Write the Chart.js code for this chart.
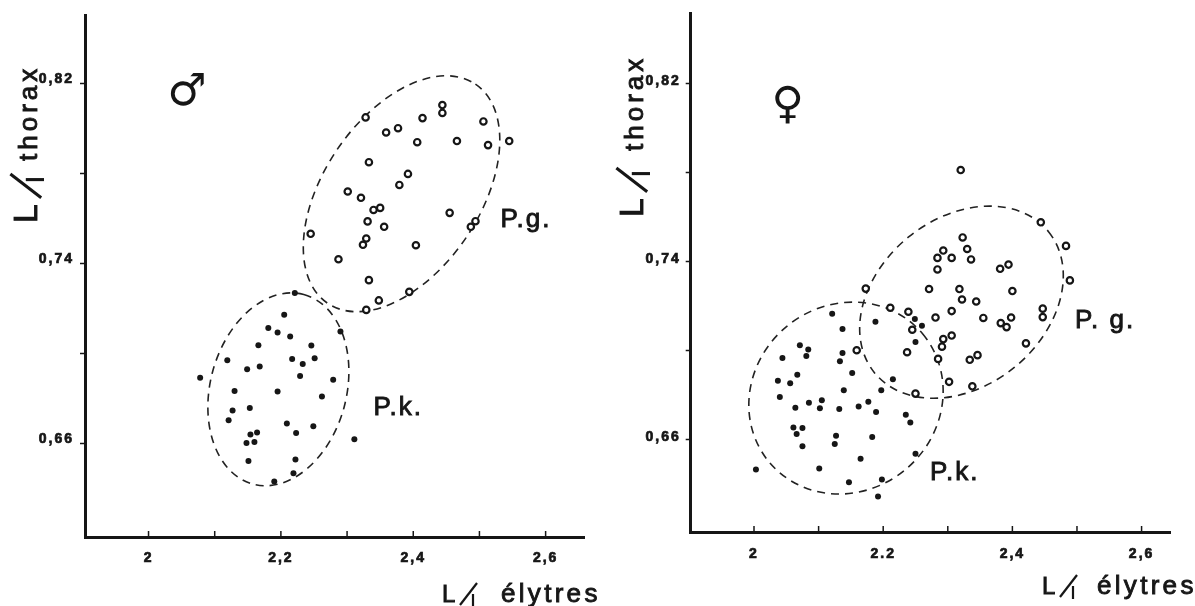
<!DOCTYPE html>
<html>
<head>
<meta charset="utf-8">
<script src="https://cdn.jsdelivr.net/npm/chart.js@4.4.1/dist/chart.umd.min.js"></script>
<style>
html, body { margin: 0; padding: 0; background: #fff; }
#wrap { position: relative; width: 1195px; height: 606px; overflow: hidden; }
canvas { position: absolute; top: 0; }
</style>
</head>
<body>
<div id="wrap">
  <canvas id="male" width="598" height="606" style="left:0"></canvas>
  <canvas id="female" width="597" height="606" style="left:598px"></canvas>
</div>
<script>
// ticks
const xTickValues = [2, 2.1, 2.2, 2.3, 2.4, 2.5, 2.6];
const maleXTickLabels = ['2', '', '2,2', '', '2,4', '', '2,6'];
const femaleXTickLabels = ['2', '', '2.2', '', '2,4', '', '2,6'];
const yTickValues = [0.66, 0.70, 0.74, 0.78, 0.82];
const yTickLabels = ['0,66', '', '0,74', '', '0,82'];

// male, P.g. (open circles)
const maleGX = [2.328, 2.359, 2.377, 2.414, 2.444, 2.444, 2.506, 2.406, 2.466, 2.513, 2.545, 2.333, 2.392, 2.379, 2.301, 2.321,
  2.340, 2.350, 2.331, 2.356, 2.455, 2.494, 2.487, 2.245, 2.329, 2.324, 2.404, 2.287, 2.333, 2.394, 2.348, 2.329];
const maleGY = [0.8049, 0.7982, 0.8001, 0.8046, 0.8104, 0.8069, 0.8031, 0.7939, 0.7944, 0.7926, 0.7944, 0.7850, 0.7798, 0.7749, 0.7720, 0.7692,
  0.7638, 0.7647, 0.7587, 0.7563, 0.7625, 0.7588, 0.7563, 0.7532, 0.7511, 0.7483, 0.7481, 0.7419, 0.7326, 0.7274, 0.7236, 0.7194];

// male, P.k. (dots)
const maleKX = [2.221, 2.205, 2.181, 2.195, 2.214, 2.290, 2.166, 2.246, 2.119, 2.149, 2.168, 2.217, 2.233, 2.251, 2.229, 2.078, 2.279, 2.130,
  2.195, 2.262, 2.127, 2.153, 2.121, 2.209, 2.249, 2.223, 2.164, 2.154, 2.148, 2.160, 2.311, 2.151, 2.222, 2.219, 2.190];
const maleKY = [0.7269, 0.7172, 0.7114, 0.7093, 0.7076, 0.7098, 0.7037, 0.7036, 0.6970, 0.6930, 0.6942, 0.6976, 0.6954, 0.6979, 0.6900, 0.6892, 0.6884, 0.6834,
  0.6831, 0.6809, 0.6747, 0.6758, 0.6704, 0.6689, 0.6677, 0.6647, 0.6649, 0.6640, 0.6603, 0.6607, 0.6619, 0.6523, 0.6529, 0.6468, 0.6432];

// female, P.g.
const femaleGX = [2.320, 2.444, 2.483, 2.489, 2.323, 2.330, 2.293, 2.284, 2.306, 2.336, 2.284, 2.381, 2.394, 2.400, 2.173, 2.271, 2.318, 2.322, 2.344, 2.211, 2.239,
  2.306, 2.281, 2.355, 2.382, 2.398, 2.391, 2.447, 2.447, 2.245, 2.293, 2.306, 2.291, 2.421, 2.159, 2.237, 2.285, 2.334, 2.346, 2.302, 2.338, 2.250];
const femaleGY = [0.7809, 0.7574, 0.7468, 0.7313, 0.7506, 0.7454, 0.7447, 0.7414, 0.7414, 0.7407, 0.7362, 0.7365, 0.7384, 0.7265, 0.7276, 0.7274, 0.7274, 0.7227, 0.7218, 0.7190, 0.7172,
  0.7175, 0.7146, 0.7144, 0.7121, 0.7146, 0.7103, 0.7186, 0.7148, 0.7091, 0.7049, 0.7065, 0.7015, 0.7030, 0.6999, 0.6990, 0.6960, 0.6956, 0.6977, 0.6857, 0.6837, 0.6804];

// female, P.k.
const femaleKX = [2.121, 2.188, 2.249, 2.260, 2.137, 2.250, 2.071, 2.084, 2.081, 2.044, 2.137, 2.133, 2.067, 2.037, 2.056, 2.152, 2.215, 2.040, 2.139, 2.197, 2.085, 2.105,
  2.102, 2.064, 2.132, 2.162, 2.177, 2.189, 2.235, 2.242, 2.061, 2.075, 2.066, 2.075, 2.127, 2.125, 2.183, 2.250, 2.165, 2.003, 2.101, 2.147, 2.198, 2.192];
const femaleKY = [0.7163, 0.7127, 0.7139, 0.7109, 0.7094, 0.7036, 0.7021, 0.7002, 0.6973, 0.6964, 0.6987, 0.6950, 0.6889, 0.6862, 0.6851, 0.6897, 0.6869, 0.6789, 0.6819, 0.6819, 0.6763, 0.6774,
  0.6738, 0.6740, 0.6735, 0.6746, 0.6767, 0.6721, 0.6709, 0.6674, 0.6652, 0.6649, 0.6622, 0.6567, 0.6615, 0.6578, 0.6609, 0.6534, 0.6511, 0.6463, 0.6467, 0.6406, 0.6418, 0.6342];

const ink = '#161616';
const sans = '"Liberation Sans", Arial, sans-serif';

const toPoints = (xs, ys) => xs.map((x, i) => ({ x: x, y: ys[i] }));

// dashed group outlines: centre in data units, semi-axes in x units, tilt in degrees
const panels = {
  male: {
    gX: maleGX, gY: maleGY, kX: maleKX, kY: maleKY, xLabels: maleXTickLabels,
    x: { min: 1.904, max: 2.658 }, y: { min: 0.6185, max: 0.8504 },
    padding: { left: 0, right: 14, top: 15, bottom: 0 }, xHeight: 69, yWidth: 85,
    xPad: 13, yPad: 6, yLabelOffset: -4,
    ellipses: [
      { cx: 2.3823, cy: 0.7710, a: 0.1997, b: 0.1180, angle: 56 },
      { cx: 2.1962, cy: 0.6841, a: 0.1483, b: 0.1029, angle: 75 }
    ],
    sign: { text: '\u2642', x: 2.0585, y: 0.8157 },
    groups: [
      { text: 'P.g.', x: 2.532, y: 0.7561 },
      { text: 'P.k.', x: 2.340, y: 0.6726 }
    ],
    xTitle: { x: 442, y: 602, gap: 59 },
    yTitle: { x: 37, y: 223, gap: 62 }
  },
  female: {
    gX: femaleGX, gY: femaleGY, kX: femaleKX, kY: femaleKY, xLabels: femaleXTickLabels,
    x: { min: 1.902, max: 2.644 }, y: { min: 0.6182, max: 0.8513 },
    padding: { left: 0, right: 25, top: 10, bottom: 0 }, xHeight: 74, yWidth: 92.7,
    xPad: 14, yPad: 5, yLabelOffset: -2,
    ellipses: [
      { cx: 2.3212, cy: 0.7215, a: 0.1734, b: 0.1300, angle: 39 },
      { cx: 2.1424, cy: 0.6784, a: 0.1548, b: 0.1440, angle: 40 }
    ],
    sign: { text: '\u2640', x: 2.0519, y: 0.8095 },
    groups: [
      { text: 'P. g.', x: 2.4969, y: 0.7097 },
      { text: 'P.k.', x: 2.2724, y: 0.6414 }
    ],
    xTitle: { x: 444, y: 594, gap: 55 },
    yTitle: { x: 45, y: 217, gap: 66 }
  }
};

// filled text with a thin outline, to get the weight of the printed lettering
function heavyText(ctx, text, x, y) {
  ctx.fillText(text, x, y);
  ctx.strokeText(text, x, y);
}

// "L/l" followed by a word, optionally turned to read upwards
function drawRatioTitle(ctx, t, word, rotate, k, spacing) {
  ctx.save();
  ctx.translate(t.x, t.y);
  if (rotate) ctx.rotate(-Math.PI / 2);
  ctx.fillStyle = ink;
  ctx.strokeStyle = ink;
  ctx.textAlign = 'left';
  ctx.textBaseline = 'alphabetic';
  ctx.letterSpacing = '0px';
  ctx.lineWidth = 0.9;
  ctx.font = (24 * k) + 'px ' + sans;
  heavyText(ctx, 'L', 0, 0);
  ctx.lineWidth = 2.2 * k;
  ctx.beginPath();
  ctx.moveTo(18 * k, 3 * k);
  ctx.lineTo(35 * k, -19 * k);
  ctx.stroke();
  ctx.beginPath();
  ctx.moveTo(31 * k, -8 * k);
  ctx.lineTo(31 * k, 5 * k);
  ctx.stroke();
  ctx.font = '26px ' + sans;
  ctx.letterSpacing = spacing + 'px';
  ctx.lineWidth = 0.9;
  heavyText(ctx, word, t.gap, 0);
  ctx.restore();
}

function panelPlugin(p) {
  return {
    id: 'figureExtras',
    beforeDraw(chart) {
      chart.ctx.letterSpacing = '2px';
    },
    beforeDatasetsDraw(chart) {
      const { ctx, scales: { x, y } } = chart;
      ctx.save();
      ctx.strokeStyle = '#222';
      ctx.lineWidth = 1.6;
      ctx.setLineDash([8, 6]);
      p.ellipses.forEach(e => {
        const cx = x.getPixelForValue(e.cx);
        const cy = y.getPixelForValue(e.cy);
        const k = x.getPixelForValue(e.cx + 1) - cx;
        ctx.beginPath();
        ctx.ellipse(cx, cy, e.a * k, e.b * k, -e.angle * Math.PI / 180, 0, Math.PI * 2);
        ctx.stroke();
      });
      ctx.restore();
    },
    afterDraw(chart) {
      const { ctx, chartArea, scales: { x, y } } = chart;
      ctx.save();
      // x ticks point up into the plot
      ctx.strokeStyle = ink;
      ctx.lineWidth = 1.5;
      xTickValues.forEach(v => {
        const px = x.getPixelForValue(v);
        ctx.beginPath();
        ctx.moveTo(px, chartArea.bottom);
        ctx.lineTo(px, chartArea.bottom - 6);
        ctx.stroke();
      });

      ctx.fillStyle = ink;
      ctx.letterSpacing = '0px';
      ctx.font = 'bold 44px "DejaVu Sans"';
      ctx.textAlign = 'center';
      ctx.textBaseline = 'middle';
      ctx.fillText(p.sign.text, x.getPixelForValue(p.sign.x), y.getPixelForValue(p.sign.y));

      ctx.font = '26px ' + sans;
      ctx.letterSpacing = '2px';
      ctx.lineWidth = 0.9;
      ctx.textAlign = 'left';
      ctx.textBaseline = 'alphabetic';
      p.groups.forEach(g => {
        heavyText(ctx, g.text, x.getPixelForValue(g.x), y.getPixelForValue(g.y));
      });
      ctx.restore();

      drawRatioTitle(ctx, p.xTitle, '\u00e9lytres', false, 1, 3.3);
      drawRatioTitle(ctx, p.yTitle, 'thorax', true, 1.4, 4);
    }
  };
}

function buildChart(id, p) {
  return new Chart(document.getElementById(id), {
    type: 'scatter',
    data: {
      datasets: [
        {
          label: 'P.g.',
          data: toPoints(p.gX, p.gY),
          pointRadius: 3.2,
          pointBorderWidth: 2.2,
          pointBorderColor: ink,
          pointBackgroundColor: '#fff'
        },
        {
          label: 'P.k.',
          data: toPoints(p.kX, p.kY),
          pointRadius: 3,
          pointBorderWidth: 0,
          pointBackgroundColor: ink
        }
      ]
    },
    options: {
      responsive: false,
      animation: false,
      devicePixelRatio: 1,
      events: [],
      layout: { padding: p.padding },
      plugins: { legend: { display: false }, tooltip: { enabled: false } },
      scales: {
        x: {
          type: 'linear',
          min: p.x.min,
          max: p.x.max,
          afterFit: s => { s.height = p.xHeight; },
          afterBuildTicks: s => { s.ticks = xTickValues.map(v => ({ value: v })); },
          ticks: {
            autoSkip: false,
            maxRotation: 0,
            padding: p.xPad,
            color: ink,
            textStrokeColor: ink,
            textStrokeWidth: 0.7,
            font: { family: sans, size: 14, weight: 'bold' },
            callback: (v, i) => p.xLabels[i]
          },
          grid: { drawOnChartArea: false, drawTicks: false, color: ink },
          border: { display: true, color: ink, width: 3 }
        },
        y: {
          type: 'linear',
          min: p.y.min,
          max: p.y.max,
          afterFit: s => { s.width = p.yWidth; },
          afterBuildTicks: s => { s.ticks = yTickValues.map(v => ({ value: v })); },
          ticks: {
            autoSkip: false,
            padding: p.yPad,
            labelOffset: p.yLabelOffset,
            color: ink,
            textStrokeColor: ink,
            textStrokeWidth: 0.7,
            font: { family: sans, size: 14, weight: 'bold' },
            callback: (v, i) => yTickLabels[i]
          },
          grid: { drawOnChartArea: false, drawTicks: true, tickLength: 5, tickWidth: 1.5, tickColor: ink, color: ink },
          border: { display: true, color: ink, width: 3 }
        }
      }
    },
    plugins: [panelPlugin(p)]
  });
}

buildChart('male', panels.male);
buildChart('female', panels.female);
</script>
</body>
</html>
